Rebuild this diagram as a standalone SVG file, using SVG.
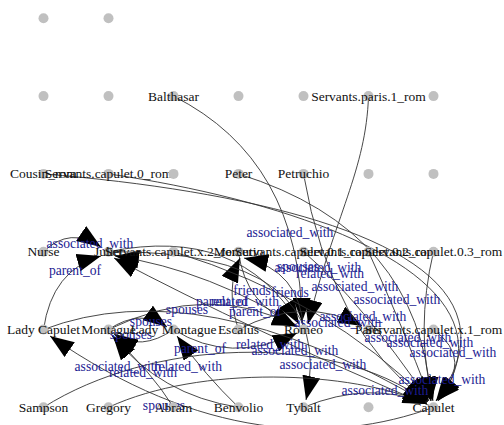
<svg xmlns="http://www.w3.org/2000/svg" width="504" height="425" viewBox="0 0 504 425">
<style>
.e{fill:none;stroke:#333;stroke-width:0.9;marker-end:url(#ah)}
.el{font-family:"Liberation Serif",serif;font-size:13.6px;fill:#1c1c92;text-anchor:middle}
.v{fill:#c0c0c0}
.vl{font-family:"Liberation Serif",serif;font-size:13.5px;fill:#111;text-anchor:middle}
</style>
<defs>
<marker id="ah" viewBox="0 0 24 18" refX="24" refY="9" markerWidth="24" markerHeight="18" orient="auto" markerUnits="userSpaceOnUse"><path d="M0,0 L24,9 L0,18 z" fill="#000"/></marker>
</defs>
<rect width="504" height="425" fill="#fff"/>
<g id="connectors">
<path class="e" d="M43.5,251.7 Q70,226 101,247"/>
<path class="e" d="M43.5,329.5 Q52,270 101,256"/>
<path class="e" d="M433.5,407.3 Q250,330 114,258"/>
<path class="e" d="M303.5,329.5 Q210,270 115,256"/>
<path class="e" d="M108.5,251.7 Q240,225 299,324"/>
<path class="e" d="M173.5,96.1 Q300,160 302,322"/>
<path class="e" d="M368.5,96.1 C366,170 335,215 308,324"/>
<path class="e" d="M238.5,251.7 Q245,305 296,326"/>
<path class="e" d="M303.5,329.5 Q300,270 244,258"/>
<path class="e" d="M108.5,329.5 Q210,280 297,327"/>
<path class="e" d="M173.5,329.5 Q230,365 297,333"/>
<path class="e" d="M108.5,329.5 Q141,308 167,327"/>
<path class="e" d="M173.5,329.5 Q141,352 114,334"/>
<path class="e" d="M43.5,329.5 Q200,270 427,403"/>
<path class="e" d="M433.5,407.3 C330,445 200,440 50,336"/>
<path class="e" d="M238.5,329.5 Q225,290 240,258"/>
<path class="e" d="M238.5,329.5 Q305,295 362,326"/>
<path class="e" d="M108.5,251.7 Q340,250 306,400"/>
<path class="e" d="M303.5,407.3 Q370,380 427,404"/>
<path class="e" d="M238.5,407.3 Q160,395 113,336"/>
<path class="e" d="M238.5,407.3 Q205,375 177,336"/>
<path class="e" d="M173.5,407.3 Q150,370 112,336"/>
<path class="e" d="M43.5,407.3 C150,340 330,330 427,402"/>
<path class="e" d="M108.5,407.3 C200,365 350,370 427,404"/>
<path class="e" d="M173.5,251.7 Q330,300 428,401"/>
<path class="e" d="M303.5,251.7 Q360,300 429,401"/>
<path class="e" d="M368.5,251.7 Q400,320 431,401"/>
<path class="e" d="M433.5,251.7 Q415,330 433,401"/>
<path class="e" d="M433.5,329.5 Q475,360 436,401"/>
<path class="e" d="M303.5,173.9 Q330,330 428,402"/>
<path class="e" d="M238.5,173.9 Q420,230 431,401"/>
<path class="e" d="M43.5,173.9 C300,195 540,260 436,401"/>
<path class="e" d="M108.5,173.9 C320,205 525,285 438,401"/>
<text class="el" x="90" y="248">associated_with</text>
<text class="el" x="75" y="275">parent_of</text>
<text class="el" x="290" y="237">associated_with</text>
<text class="el" x="298" y="271">spouses</text>
<text class="el" x="318" y="272">associated_with</text>
<text class="el" x="330" y="278">related_with</text>
<text class="el" x="355" y="291">associated_with</text>
<text class="el" x="397" y="304">associated_with</text>
<text class="el" x="252" y="295">friends</text>
<text class="el" x="290" y="297">friends</text>
<text class="el" x="222" y="306">parent_of</text>
<text class="el" x="245" y="306">related_with</text>
<text class="el" x="255" y="316">parent_of</text>
<text class="el" x="187" y="314">spouses</text>
<text class="el" x="151" y="326">spouses</text>
<text class="el" x="131" y="339">spouses</text>
<text class="el" x="200" y="353">parent_of</text>
<text class="el" x="270" y="349">related_with</text>
<text class="el" x="363" y="321">associated_with</text>
<text class="el" x="338" y="327">associated_with</text>
<text class="el" x="408" y="342">associated_with</text>
<text class="el" x="430" y="347">associated_with</text>
<text class="el" x="453" y="357">associated_with</text>
<text class="el" x="295" y="355">associated_with</text>
<text class="el" x="323" y="369">associated_with</text>
<text class="el" x="442" y="384">associated_with</text>
<text class="el" x="385" y="395">associated_with</text>
<text class="el" x="118" y="371">associated_with</text>
<text class="el" x="143" y="377">related_with</text>
<text class="el" x="188" y="371">related_with</text>
<text class="el" x="164" y="410">spouses</text>
</g>
<g id="n01"><circle class="v" cx="43.5" cy="18.3" r="5"/></g>
<g id="n02"><circle class="v" cx="108.5" cy="18.3" r="5"/></g>
<g id="n03"><circle class="v" cx="43.5" cy="96.1" r="5"/></g>
<g id="n04"><circle class="v" cx="108.5" cy="96.1" r="5"/></g>
<g id="balthasar"><circle class="v" cx="173.5" cy="96.1" r="5"/><text class="vl" x="173.5" y="100.6">Balthasar</text></g>
<g id="n06"><circle class="v" cx="238.5" cy="96.1" r="5"/></g>
<g id="n07"><circle class="v" cx="303.5" cy="96.1" r="5"/></g>
<g id="servants_paris_1"><circle class="v" cx="368.5" cy="96.1" r="5"/><text class="vl" x="368.5" y="100.6">Servants.paris.1_rom</text></g>
<g id="n09"><circle class="v" cx="433.5" cy="96.1" r="5"/></g>
<g id="cousin"><circle class="v" cx="43.5" cy="173.9" r="5"/><text class="vl" x="43.5" y="178.4">Cousin_rom</text></g>
<g id="servants_capulet_0"><circle class="v" cx="108.5" cy="173.9" r="5"/><text class="vl" x="108.5" y="178.4">Servants.capulet.0_rom</text></g>
<g id="n12"><circle class="v" cx="173.5" cy="173.9" r="5"/></g>
<g id="peter"><circle class="v" cx="238.5" cy="173.9" r="5"/><text class="vl" x="238.5" y="178.4">Peter</text></g>
<g id="petruchio"><circle class="v" cx="303.5" cy="173.9" r="5"/><text class="vl" x="303.5" y="178.4">Petruchio</text></g>
<g id="n15"><circle class="v" cx="368.5" cy="173.9" r="5"/></g>
<g id="n16"><circle class="v" cx="433.5" cy="173.9" r="5"/></g>
<g id="nurse"><circle class="v" cx="43.5" cy="251.7" r="5"/><text class="vl" x="43.5" y="256.2">Nurse</text></g>
<g id="juliet"><circle class="v" cx="108.5" cy="251.7" r="5"/><text class="vl" x="108.5" y="256.2">Juliet</text></g>
<g id="servants_capulet_x2"><circle class="v" cx="173.5" cy="251.7" r="5"/><text class="vl" x="173.5" y="256.2">Servants.capulet.x.2_rom</text></g>
<g id="mercutio"><circle class="v" cx="238.5" cy="251.7" r="5"/><text class="vl" x="238.5" y="256.2">Mercutio</text></g>
<g id="servants_capulet_01"><circle class="v" cx="303.5" cy="251.7" r="5"/><text class="vl" x="303.5" y="256.2">Servants.capulet.0.1_rom</text></g>
<g id="servants_capulet_02"><circle class="v" cx="368.5" cy="251.7" r="5"/><text class="vl" x="368.5" y="256.2">Servants.capulet.0.2_rom</text></g>
<g id="servants_capulet_03"><circle class="v" cx="433.5" cy="251.7" r="5"/><text class="vl" x="433.5" y="256.2">Servants.capulet.0.3_rom</text></g>
<g id="lady_capulet"><circle class="v" cx="43.5" cy="329.5" r="5"/><text class="vl" x="43.5" y="334">Lady Capulet</text></g>
<g id="montague"><circle class="v" cx="108.5" cy="329.5" r="5"/><text class="vl" x="108.5" y="334">Montague</text></g>
<g id="lady_montague"><circle class="v" cx="173.5" cy="329.5" r="5"/><text class="vl" x="173.5" y="334">Lady Montague</text></g>
<g id="escalus"><circle class="v" cx="238.5" cy="329.5" r="5"/><text class="vl" x="238.5" y="334">Escalus</text></g>
<g id="romeo"><circle class="v" cx="303.5" cy="329.5" r="5"/><text class="vl" x="303.5" y="334">Romeo</text></g>
<g id="paris"><circle class="v" cx="368.5" cy="329.5" r="5"/><text class="vl" x="368.5" y="334">Paris</text></g>
<g id="servants_capulet_x1"><circle class="v" cx="433.5" cy="329.5" r="5"/><text class="vl" x="433.5" y="334">Servants.capulet.x.1_rom</text></g>
<g id="sampson"><circle class="v" cx="43.5" cy="407.3" r="5"/><text class="vl" x="43.5" y="411.8">Sampson</text></g>
<g id="gregory"><circle class="v" cx="108.5" cy="407.3" r="5"/><text class="vl" x="108.5" y="411.8">Gregory</text></g>
<g id="abram"><circle class="v" cx="173.5" cy="407.3" r="5"/><text class="vl" x="173.5" y="411.8">Abram</text></g>
<g id="benvolio"><circle class="v" cx="238.5" cy="407.3" r="5"/><text class="vl" x="238.5" y="411.8">Benvolio</text></g>
<g id="tybalt"><circle class="v" cx="303.5" cy="407.3" r="5"/><text class="vl" x="303.5" y="411.8">Tybalt</text></g>
<g id="n36"><circle class="v" cx="368.5" cy="407.3" r="5"/></g>
<g id="capulet"><circle class="v" cx="433.5" cy="407.3" r="5"/><text class="vl" x="433.5" y="411.8">Capulet</text></g>
</svg>
